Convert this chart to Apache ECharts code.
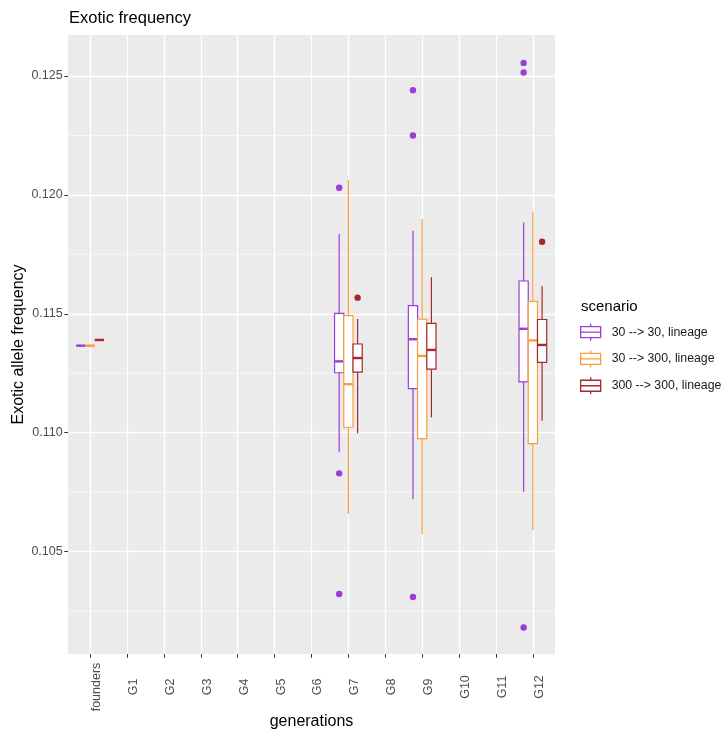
<!DOCTYPE html>
<html>
<head>
<meta charset="utf-8">
<script src="https://cdn.jsdelivr.net/npm/echarts@6/dist/echarts.min.js"></script>
<style>
  html, body { margin: 0; padding: 0; background: #ffffff; }
  #chart { width: 725px; height: 733px; }
</style>
</head>
<body>
<div id="chart"></div>
<script>
// Generations on the x axis (index = position on the axis)
const categories = ['founders', 'G1', 'G2', 'G3', 'G4', 'G5', 'G6', 'G7', 'G8', 'G9', 'G10', 'G11', 'G12'];
const scenarios = ['30 --> 30, lineage', '30 --> 300, lineage', '300 --> 300, lineage'];

// Box statistics: [generation, lower whisker, Q1, median, Q3, upper whisker]
const box30to30 = [
  ['founders', 0.11366, 0.11366, 0.11366, 0.11366, 0.11366],
  ['G7', 0.10918, 0.11252, 0.11300, 0.11502, 0.11836],
  ['G9', 0.10720, 0.11185, 0.11393, 0.11534, 0.11849],
  ['G12', 0.10752, 0.11214, 0.11437, 0.11638, 0.11884]
];
const box30to300 = [
  ['founders', 0.11366, 0.11366, 0.11366, 0.11366, 0.11366],
  ['G7', 0.10658, 0.11023, 0.11204, 0.11492, 0.12063],
  ['G9', 0.10574, 0.10975, 0.11323, 0.11477, 0.11899],
  ['G12', 0.10591, 0.10954, 0.11388, 0.11552, 0.11930]
];
const box300to300 = [
  ['founders', 0.11390, 0.11390, 0.11390, 0.11390, 0.11390],
  ['G7', 0.10998, 0.11255, 0.11314, 0.11373, 0.11478],
  ['G9', 0.11065, 0.11267, 0.11348, 0.11460, 0.11654],
  ['G12', 0.11050, 0.11296, 0.11369, 0.11476, 0.11616]
];

// Outlying replicates: [generation, value]
const out30to30 = [
  ['G7', 0.12030], ['G7', 0.10829], ['G7', 0.10322],
  ['G9', 0.12440], ['G9', 0.12250], ['G9', 0.10309],
  ['G12', 0.12555], ['G12', 0.12515], ['G12', 0.10181]
];
const out30to300 = [];
const out300to300 = [['G7', 0.11568], ['G12', 0.11803]];

// Axis ticks
const yTicks = [0.105, 0.110, 0.115, 0.120, 0.125];
const yMinorTicks = [0.1025, 0.1075, 0.1125, 0.1175, 0.1225];

const colors = ['#9A3ED6', '#F7A03A', '#A5282F'];
const boxes = [box30to30, box30to300, box300to300];
const outliers = [out30to30, out30to300, out300to300];
const dodge = 0.25;
const xMin = -0.6, xMax = 12.6;
const font = "'Liberation Sans', Arial, Helvetica, sans-serif";
const catIdx = categories.map((c, i) => i);

function boxRenderer(k) {
  return function (params, api) {
    const x = api.value(0) + (k - 1) * dodge;
    const half = api.size([dodge, 0])[0] / 2;
    const lo = api.coord([x, api.value(1)]);
    const q1 = api.coord([x, api.value(2)]);
    const med = api.coord([x, api.value(3)]);
    const q3 = api.coord([x, api.value(4)]);
    const hi = api.coord([x, api.value(5)]);
    const cx = med[0];
    const stroke = colors[k];
    return {
      type: 'group',
      children: [
        { type: 'line', shape: { x1: cx, y1: hi[1], x2: cx, y2: q3[1] }, style: { stroke: stroke, lineWidth: 1.2 } },
        { type: 'line', shape: { x1: cx, y1: q1[1], x2: cx, y2: lo[1] }, style: { stroke: stroke, lineWidth: 1.2 } },
        { type: 'rect', shape: { x: cx - half, y: q3[1], width: half * 2, height: q1[1] - q3[1] },
          style: { fill: '#ffffff', stroke: stroke, lineWidth: 1.2 } },
        { type: 'line', shape: { x1: cx - half, y1: med[1], x2: cx + half, y2: med[1] },
          style: { stroke: stroke, lineWidth: 2.4 } }
      ]
    };
  };
}

function outlierRenderer(k) {
  return function (params, api) {
    const p = api.coord([api.value(0) + (k - 1) * dodge, api.value(1)]);
    return { type: 'circle', shape: { cx: p[0], cy: p[1], r: 3.2 }, style: { fill: colors[k] } };
  };
}

// thin white minor grid lines across the panel
function minorGridRenderer(params, api) {
  const a = api.coord([xMin, api.value(0)]);
  const b = api.coord([xMax, api.value(0)]);
  return { type: 'line', shape: { x1: a[0], y1: a[1], x2: b[0], y2: b[1] },
           style: { stroke: '#ffffff', lineWidth: 0.6 } };
}

const series = [{
  type: 'custom', name: 'minor-grid', z: 1, silent: true,
  renderItem: minorGridRenderer,
  data: yMinorTicks.map(v => [v])
}];
scenarios.forEach((name, k) => {
  series.push({
    type: 'custom', name: name, z: 3,
    itemStyle: { color: colors[k] },
    renderItem: boxRenderer(k),
    data: boxes[k].map(r => [categories.indexOf(r[0]), r[1], r[2], r[3], r[4], r[5]])
  });
  series.push({
    type: 'custom', name: name, z: 4,
    itemStyle: { color: colors[k] },
    renderItem: outlierRenderer(k),
    data: outliers[k].map(r => [categories.indexOf(r[0]), r[1]])
  });
});

const keyIcon = 'path://M10,0L10,3M0,3L20,3L20,14L0,14ZM0,8.5L20,8.5M10,14L10,17';

const chart = echarts.init(document.getElementById('chart'), null, { renderer: 'canvas' });
chart.setOption({
  animation: false,
  backgroundColor: '#ffffff',
  textStyle: { fontFamily: font },
  title: [
    { text: 'Exotic frequency', left: 64, top: 5,
      textStyle: { fontFamily: font, fontSize: 16.5, fontWeight: 'normal', color: '#000000' } },
    { text: 'scenario', left: 576, top: 294,
      textStyle: { fontFamily: font, fontSize: 15, fontWeight: 'normal', color: '#000000' } }
  ],
  legend: {
    orient: 'vertical', left: 580, top: 323, padding: 0,
    itemWidth: 20, itemHeight: 17, itemGap: 8.5,
    selectedMode: false,
    textStyle: { fontFamily: font, fontSize: 12.3, color: '#1A1A1A', padding: [0, 0, 0, 6] },
    data: scenarios.map((n, k) => ({
      name: n, icon: keyIcon,
      itemStyle: { color: '#ffffff', borderColor: colors[k], borderWidth: 1.3 }
    }))
  },
  grid: {
    left: 68, top: 35, width: 487, height: 619,
    outerBoundsMode: 'none', containLabel: false,
    show: true, backgroundColor: '#EBEBEB', borderWidth: 0
  },
  xAxis: {
    type: 'value', min: xMin, max: xMax, splitNumber: 13,
    axisLine: { show: false, onZero: false },
    axisTick: { show: true, length: 3.7, lineStyle: { color: '#333333', width: 1 }, customValues: catIdx },
    axisLabel: {
      customValues: catIdx, formatter: v => categories[Math.round(v)],
      rotate: 90, align: 'center', verticalAlign: 'top', margin: 33,
      color: '#4D4D4D', fontSize: 12.5, fontFamily: font
    },
    splitLine: { show: true, lineStyle: { color: '#ffffff', width: 1.3 } },
    name: 'generations', nameLocation: 'middle', nameGap: 60, nameMoveOverlap: false,
    nameTextStyle: { fontFamily: font, fontSize: 16, color: '#000000' }
  },
  yAxis: {
    type: 'value', min: 0.100694, max: 0.126724, splitNumber: 5,
    axisLine: { show: false, onZero: false },
    axisTick: { show: true, length: 3.7, lineStyle: { color: '#333333', width: 1 }, customValues: yTicks },
    axisLabel: {
      customValues: yTicks, formatter: v => v.toFixed(3), margin: 5.3,
      color: '#4D4D4D', fontSize: 12.5, fontFamily: font
    },
    splitLine: { show: true, lineStyle: { color: '#ffffff', width: 1.3 } },
    name: 'Exotic allele frequency', nameLocation: 'middle', nameGap: 41, nameMoveOverlap: false,
    nameTextStyle: { fontFamily: font, fontSize: 16, color: '#000000' }
  },
  series: series
});
</script>
</body>
</html>
